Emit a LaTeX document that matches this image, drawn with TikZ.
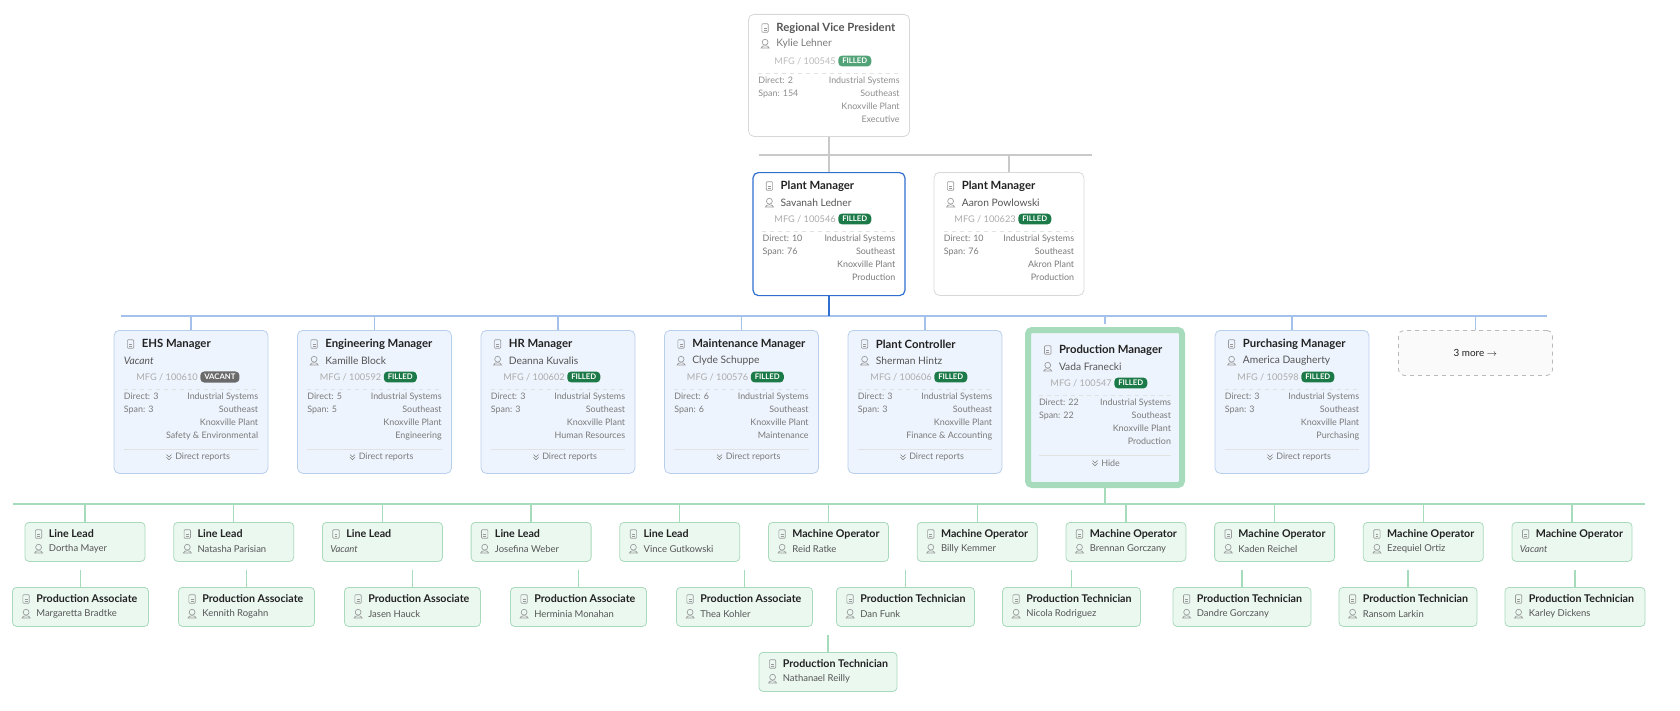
\documentclass[tikz,border=0pt]{standalone}
\usepackage{fontspec}
\setmainfont{Lato}
\usetikzlibrary{positioning}
\definecolor{gline}{HTML}{C9C9C9}
\definecolor{bline}{HTML}{A3C1EA}
\definecolor{grn}{HTML}{A6DCBC}
\definecolor{cbord}{HTML}{D8D8D8}
\definecolor{lfill}{HTML}{EEF4FD}
\definecolor{lbord}{HTML}{B8CFEC}
\definecolor{tfill}{HTML}{EBF8F0}
\definecolor{tbord}{HTML}{A9DABB}
\definecolor{bdg}{HTML}{1B7A47}
\definecolor{bdgl}{HTML}{52A277}
\definecolor{bdgv}{HTML}{6A6A6A}
\definecolor{ttlc}{HTML}{222222}
\definecolor{namec}{HTML}{555555}
\definecolor{detc}{HTML}{7A7A7A}
\definecolor{idc}{HTML}{ABABAB}
\definecolor{icc}{HTML}{9A9A9A}
\definecolor{sepc}{HTML}{E2E2E2}
\definecolor{bluebord}{HTML}{2F6FCF}
\tikzset{
 x=0.75pt,y=-0.75pt,
 wh/.style 2 args={minimum width={#1*0.75pt},minimum height={#2*0.75pt}},
 card/.style={draw=cbord,fill=white,rounded corners=4pt,line width=0.6pt,inner sep=0pt,anchor=north},
 ttl/.style={font=\fontsize{8.5}{10}\selectfont\bfseries,text=ttlc,inner sep=0pt,anchor=west},
 ttls/.style={font=\fontsize{8}{10}\selectfont\bfseries,text=ttlc,inner sep=0pt,anchor=west},
 nm/.style={font=\fontsize{7.7}{10}\selectfont,text=namec,inner sep=0pt,anchor=west},
 nms/.style={font=\fontsize{7.1}{9}\selectfont,text=namec,inner sep=0pt,anchor=west},
 det/.style={font=\fontsize{6.7}{9.75}\selectfont,text=detc,inner sep=0pt},
 idt/.style={font=\fontsize{6.9}{9}\selectfont,text=idc,inner sep=0pt,anchor=east},
 badge/.style={font=\fontsize{5.8}{7}\selectfont\bfseries,text=white,fill=#1,rounded corners=3pt,inner xsep=3pt,inner ysep=2pt,anchor=west},
 docic/.pic={\draw[icc,line width=0.5pt,rounded corners=0.6pt] (-3.2,-4.2) rectangle (3.2,4.2);
   \draw[icc,line width=0.4pt] (-1.4,0)--(1.4,0) (-1.4,2)--(1.4,2);},
 peric/.pic={\draw[icc,line width=0.5pt] (0,-1.8) circle (2.2pt);
   \draw[icc,line width=0.5pt] (-4,4) .. controls (-4,1) and (4,1) .. (4,4) -- cycle;},
 chev/.pic={\draw[detc,line width=0.45pt] (-2.5,-2.5)--(0,0)--(2.5,-2.5) (-2.5,0.2)--(0,2.7)--(2.5,0.2);},
}
\newcommand\cn{}
\newcommand\per[1]{\pic at ([shift={(17,31)}]\cn.north west) {peric};
 \node[nm] at ([shift={(28,31)}]\cn.north west) {#1};}
\newcommand\vac{\node[nm,font=\fontsize{7.7}{10}\selectfont\itshape] at ([shift={(10,31)}]\cn.north west) {Vacant};}
\newcommand\body[7]{%
 \renewcommand\cn{#1}%
 \pic at ([shift={(17,14)}]#1.north west) {docic};
 \node[ttl] at ([shift={(28,14)}]#1.north west) {#2};
 #3
 \node[idt] at ([shift={(7,47)}]#1.north) {MFG / #4};
 \node[badge=#6] at ([shift={(9,47)}]#1.north) {#5};
 \draw[sepc,dashed,line width=0.5pt] ([shift={(10,59)}]#1.north west) -- ([shift={(-10,59)}]#1.north east);
 \node[det,anchor=north east,align=right] at ([shift={(-10,63)}]#1.north east) {#7};
}
\newcommand\lft[3]{\node[det,anchor=north west,align=left] at ([shift={(10,63)}]#1.north west) {Direct: #2\\Span: #3};}
\newcommand\foot[2]{\draw[sepc,line width=0.4pt] ([shift={(10,119)}]#1.north west) -- ([shift={(-10,119)}]#1.north east);
 \pic at ([shift={(-22,127)}]#1.north) {chev};
 \node[det,anchor=west] at ([shift={(-16,127)}]#1.north) {#2};}
\newcommand\lvtwo[9]{%
 \node[card,draw=lbord,fill=lfill,wh={154}{143}] (#1) at (#2,330) {};
 \body{#1}{#3}{#4}{#5}{#6}{#7}{Industrial Systems\\Southeast\\Knoxville Plant\\#9}
 \lft{#1}{#8}{#8}
 \draw[bline,line width=0.8pt] (#2,316) -- (#1.north);
}
\newcommand\lper[1]{\pic at ([shift={(14,27)}]\cn.north west) {peric};
 \node[nms] at ([shift={(24,27)}]\cn.north west) {#1};}
\newcommand\lvac{\node[nms,font=\fontsize{7.1}{9}\selectfont\itshape] at ([shift={(8,27)}]\cn.north west) {Vacant};}
\newcommand\lvthree[6]{%
 \node[card,draw=tbord,fill=tfill,wh={#4}{39},rounded corners=3pt] (#1) at (#2,#3) {};
 \renewcommand\cn{#1}%
 \pic at ([shift={(14,12)}]#1.north west) {docic};
 \node[ttls] at ([shift={(24,12)}]#1.north west) {#5};
 #6
}
\begin{document}
\begin{tikzpicture}
\useasboundingbox (0,0) rectangle (1680,710);
\draw[gline,line width=1.2pt] (759,155) -- (1092,155);
\draw[bline,line width=1.2pt] (121,316) -- (1547,316);
\draw[grn,line width=1.5pt] (13,504) -- (1645,504);
% ---------- level 0/1 ----------
\node[card,wh={161}{122}] (rvp) at (829,14) {};
\renewcommand\cn{rvp}
\pic at ([shift={(17,14)}]rvp.north west) {docic};
\node[ttl,text=namec] at ([shift={(28,14)}]rvp.north west) {Regional Vice President};
\pic at ([shift={(17,30)}]rvp.north west) {peric};
\node[nm,text=detc] at ([shift={(28,30)}]rvp.north west) {Kylie Lehner};
\node[idt,text=idc!80] at ([shift={(7,47)}]rvp.north) {MFG / 100545};
\node[badge=bdgl] at ([shift={(9,47)}]rvp.north) {FILLED};
\draw[sepc,dashed,line width=0.5pt] ([shift={(10,59)}]rvp.north west) -- ([shift={(-10,59)}]rvp.north east);
\node[det,text=detc!85,anchor=north east,align=right] at ([shift={(-10,63)}]rvp.north east) {Industrial Systems\\Southeast\\Knoxville Plant\\Executive};
\node[det,text=detc!85,anchor=north west,align=left] at ([shift={(10,63)}]rvp.north west) {Direct: 2\\Span: 154};

\node[card,draw=bluebord,line width=0.9pt,wh={152}{123}] (pm1) at (829,172) {};
\body{pm1}{Plant Manager}{\per{Savanah Ledner}}{100546}{FILLED}{bdg}{Industrial Systems\\Southeast\\Knoxville Plant\\Production}
\lft{pm1}{10}{76}
\node[card,wh={150}{123}] (pm2) at (1009,172) {};
\body{pm2}{Plant Manager}{\per{Aaron Powlowski}}{100623}{FILLED}{bdg}{Industrial Systems\\Southeast\\Akron Plant\\Production}
\lft{pm2}{10}{76}
\draw[gline,line width=1.2pt] (rvp.south) -- (829,155) -- (pm1.north);
\draw[gline,line width=1.2pt] (1009,155) -- (pm2.north);
\draw[bluebord,line width=0.9pt] (pm1.south) -- (829,316);
% ---------- level 2 ----------
\lvtwo{ehs}{191}{EHS Manager}{\vac}{100610}{VACANT}{bdgv}{3}{Safety \& Environmental}
\foot{ehs}{Direct reports}
\lvtwo{eng}{374.5}{Engineering Manager}{\per{Kamille Block}}{100592}{FILLED}{bdg}{5}{Engineering}
\foot{eng}{Direct reports}
\lvtwo{hr}{558}{HR Manager}{\per{Deanna Kuvalis}}{100602}{FILLED}{bdg}{3}{Human Resources}
\foot{hr}{Direct reports}
\lvtwo{mnt}{741.5}{Maintenance Manager}{\per{Clyde Schuppe}}{100576}{FILLED}{bdg}{6}{Maintenance}
\foot{mnt}{Direct reports}
\lvtwo{pc}{925}{Plant Controller}{\per{Sherman Hintz}}{100606}{FILLED}{bdg}{3}{Finance \& Accounting}
\foot{pc}{Direct reports}
\lvtwo{pur}{1292}{Purchasing Manager}{\per{America Daugherty}}{100598}{FILLED}{bdg}{3}{Purchasing}
\foot{pur}{Direct reports}
\draw[bline,line width=0.8pt] (1105,316) -- (1105,324);
\node[card,draw=grn,line width=4.5pt,fill=lfill,wh={154}{155},rounded corners=3pt] (prod) at (1105,327) {};
\node[inner sep=0pt,wh={148}{143},anchor=north] (prodi) at (1105,330) {};
\renewcommand\cn{prodi}
\pic at ([shift={(17,20)}]prodi.north west) {docic};
\node[ttl] at ([shift={(28,20)}]prodi.north west) {Production Manager};
\pic at ([shift={(17,37)}]prodi.north west) {peric};
\node[nm] at ([shift={(28,37)}]prodi.north west) {Vada Franecki};
\node[idt] at ([shift={(7,53)}]prodi.north) {MFG / 100547};
\node[badge=bdg] at ([shift={(9,53)}]prodi.north) {FILLED};
\draw[sepc,dashed,line width=0.5pt] ([shift={(8,65)}]prodi.north west) -- ([shift={(-8,65)}]prodi.north east);
\node[det,anchor=north east,align=right] at ([shift={(-8,69)}]prodi.north east) {Industrial Systems\\Southeast\\Knoxville Plant\\Production};
\node[det,anchor=north west,align=left] at ([shift={(8,69)}]prodi.north west) {Direct: 22\\Span: 22};
\draw[sepc,line width=0.4pt] ([shift={(8,125)}]prodi.north west) -- ([shift={(-8,125)}]prodi.north east);
\pic at ([shift={(-10,133)}]prodi.north) {chev};
\node[det,anchor=west] at ([shift={(-4,133)}]prodi.north) {Hide};
\draw[grn,line width=1pt] (prod.south) -- (1105,504);
\node[card,draw=gray!55,dashed,fill=gray!4,wh={154}{45},rounded corners=4pt,
  font=\fontsize{7.4}{9}\selectfont,text=ttlc] (more) at (1475.5,330) {3 more $\rightarrow$};
\draw[bline,line width=0.8pt] (1475.5,316) -- (more.north);
% ---------- level 3 ----------
\lvthree{ll1}{85}{522}{120}{Line Lead}{\lper{Dortha Mayer}}
\lvthree{ll2}{233.7}{522}{120}{Line Lead}{\lper{Natasha Parisian}}
\lvthree{ll3}{382.4}{522}{120}{Line Lead}{\lvac}
\lvthree{ll4}{531.1}{522}{120}{Line Lead}{\lper{Josefina Weber}}
\lvthree{ll5}{679.8}{522}{120}{Line Lead}{\lper{Vince Gutkowski}}
\lvthree{mo1}{828.5}{522}{120}{Machine Operator}{\lper{Reid Ratke}}
\lvthree{mo2}{977.2}{522}{120}{Machine Operator}{\lper{Billy Kemmer}}
\lvthree{mo3}{1125.9}{522}{120}{Machine Operator}{\lper{Brennan Gorczany}}
\lvthree{mo4}{1274.6}{522}{120}{Machine Operator}{\lper{Kaden Reichel}}
\lvthree{mo5}{1423.3}{522}{120}{Machine Operator}{\lper{Ezequiel Ortiz}}
\lvthree{mo6}{1572}{522}{120}{Machine Operator}{\lvac}
\foreach \n/\x in {ll1/85,ll2/233.7,ll3/382.4,ll4/531.1,ll5/679.8,mo1/828.5,mo2/977.2,mo3/1125.9,mo4/1274.6,mo5/1423.3,mo6/1572}
  \draw[grn,line width=1pt] (\x,504) -- (\n.north);
\lvthree{pa1}{80.5}{587}{136}{Production Associate}{\lper{Margaretta Bradtke}}
\lvthree{pa2}{246.5}{587}{136}{Production Associate}{\lper{Kennith Rogahn}}
\lvthree{pa3}{412.5}{587}{136}{Production Associate}{\lper{Jasen Hauck}}
\lvthree{pa4}{578.5}{587}{136}{Production Associate}{\lper{Herminia Monahan}}
\lvthree{pa5}{744.5}{587}{136}{Production Associate}{\lper{Thea Kohler}}
\lvthree{pt1}{905.5}{587}{138}{Production Technician}{\lper{Dan Funk}}
\lvthree{pt2}{1071.5}{587}{138}{Production Technician}{\lper{Nicola Rodriguez}}
\lvthree{pt3}{1242}{587}{138}{Production Technician}{\lper{Dandre Gorczany}}
\lvthree{pt4}{1408}{587}{138}{Production Technician}{\lper{Ransom Larkin}}
\lvthree{pt5}{1575}{587}{140}{Production Technician}{\lper{Karley Dickens}}
\lvthree{pt6}{828}{652}{138}{Production Technician}{\lper{Nathanael Reilly}}
\foreach \n in {pa1,pa2,pa3,pa4,pa5,pt1,pt2,pt3,pt4,pt5,pt6}
  \draw[grn,line width=1pt] ([yshift=17*0.75pt]\n.north) -- (\n.north);
\end{tikzpicture}
\end{document}
